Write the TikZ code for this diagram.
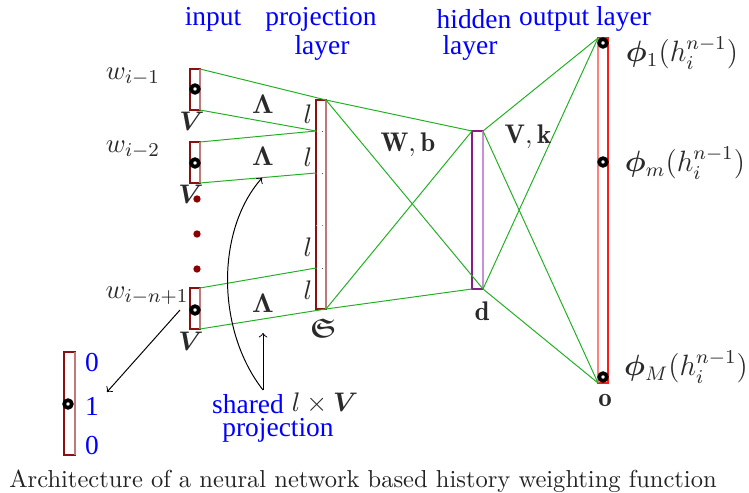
\documentclass[tikz,border=0pt]{standalone}
\usepackage{fontspec}
\usepackage{amsmath,amssymb,bm}
\newfontfamily\timesf{Liberation Serif}
\definecolor{dred}{HTML}{8B1010}
\definecolor{pred}{HTML}{C07878}
\definecolor{gl}{HTML}{22B022}
\definecolor{purp}{HTML}{8B1A8B}
\definecolor{lpurp}{HTML}{C890D8}
\definecolor{bred}{HTML}{FF1A1A}
\definecolor{pinkr}{HTML}{FF8080}
\definecolor{dotred}{HTML}{8B0000}
\definecolor{capgray}{HTML}{222222}
\definecolor{mgray}{HTML}{2A2A2A}
\begin{document}
\begin{tikzpicture}[x=0.408pt,y=-0.408pt,
  box/.style={draw=dred, line width=0.5pt, fill=white, inner sep=0pt, outer sep=0pt, minimum width=4.08pt},
  gline/.style={draw=gl, line width=0.4pt},
  ring/.style={circle, draw=black, line width=1.5pt, fill=white, inner sep=0pt, minimum size=3.1pt},
  rdot/.style={circle, fill=dotred, inner sep=0pt, minimum size=3pt},
  btext/.style={font=\timesf\fontsize{11.2}{12}\selectfont, text=blue, inner sep=0pt},
  mtext/.style={font=\fontsize{11}{13}\selectfont, text=mgray, inner sep=0pt},
  ptext/.style={font=\fontsize{12}{14}\selectfont, text=mgray, inner sep=0pt},
  tick/.style={line width=0.4pt, dotted},
  arr/.style={->, line width=0.4pt, black}
]
\useasboundingbox (0,0) rectangle (749,493);

% boxes
\node[box, minimum height=16.73pt] (in1) at (195,89.5) {};
\node[box, minimum height=16.73pt] (in2) at (195,162.5) {};
\node[box, minimum height=16.73pt] (in3) at (195,308.5) {};
\node[box, minimum height=85.27pt] (proj) at (321,204.5) {};
\node[box, draw=purp, minimum width=4.49pt, minimum height=64.46pt] (hid) at (477.5,210) {};
\node[box, draw=bred, minimum height=140.76pt] (out) at (603,210.5) {};
\node[box, minimum width=4.49pt, minimum height=42.02pt] (vec) at (69.5,403.5) {};

% two-tone edges
\draw[pred, line width=0.5pt] (in1.north east) -- (in1.south east);
\draw[pred, line width=0.5pt] (in2.north east) -- (in2.south east);
\draw[pred, line width=0.5pt] (in3.north east) -- (in3.south east);
\draw[pred, line width=0.5pt] (proj.north east) -- (proj.south east);
\draw[pred, line width=0.5pt] (vec.north east) -- (vec.south east);
\draw[lpurp, line width=0.5pt] (hid.north east) -- (hid.south east);
\draw[pinkr, line width=0.5pt] (out.north west) -- (out.south west);

% split points on projection layer
\coordinate (t1) at (316,131);
\coordinate (t2) at (316,173);
\coordinate (t3) at (316,225);
\coordinate (t4) at (316,268);
\coordinate (u1) at (325,131);
\coordinate (u2) at (325,173);
\coordinate (u3) at (325,225);
\coordinate (u4) at (325,268);
\draw[tick, black!70] (t1) -- (u1);
\draw[tick, black!70] (t2) -- (u2);
\draw[tick, pred] (t3) -- (u3);
\draw[tick, black!70] (t4) -- (u4);

% green connections
\draw[gline] (in1.north east) -- (proj.north east);
\draw[gline] (in1.south east) -- (t1);
\draw[gline] (in2.north east) -- (t1);
\draw[gline] (in2.south east) -- (t2);
\draw[gline] (in3.north east) -- (t4);
\draw[gline] (in3.south east) -- (proj.south east);
\draw[gline] (proj.north east) -- (hid.north west);
\draw[gline] (proj.north east) -- (hid.south east);
\draw[gline] (proj.south east) -- (hid.north west);
\draw[gline] (proj.south east) -- (hid.south west);
\draw[gline] (hid.north east) -- (out.north west);
\draw[gline] (hid.north east) -- (out.south west);
\draw[gline] (hid.south east) -- (out.north west);
\draw[gline] (hid.south east) -- (out.south west);

% rings
\node[ring] (r1) at (195,89) {};
\node[ring] (r2) at (195,163) {};
\node[ring] (r3) at (195,310) {};
\node[ring] (o1) at (603,43) {};
\node[ring] (o2) at (603,162) {};
\node[ring] (o3) at (603,377) {};
\node[ring] (rv) at (68,404) {};

% red dots
\node[rdot] (d1) at (197,199) {};
\node[rdot] (d2) at (197,234) {};
\node[rdot] (d3) at (197,269) {};

% headers
\node[btext] (lin) at (213,19) {input};
\node[btext] (lproj) at (321,19) {projection};
\node[btext] (lprojb) at (322,48) {layer};
\node[btext] (lhid) at (474,19) {hidden};
\node[btext] (lhidb) at (470,48) {layer};
\node[btext] (lout) at (585,19) {output layer};

% math labels
\node[mtext] (w1) at (133,77) {$w_{i-1}$};
\node[mtext] (w2) at (133,150) {$w_{i-2}$};
\node[mtext] (w3) at (147,296) {$w_{i-n+1}$};
\node[mtext] (v1) at (192,121) {$\bm{V}$};
\node[mtext] (v2) at (191,194) {$\bm{V}$};
\node[mtext] (v3) at (191,341) {$\bm{V}$};
\node[mtext] (la1) at (263,104) {$\bm{\Lambda}$};
\node[mtext] (la2) at (263,156) {$\bm{\Lambda}$};
\node[mtext] (la3) at (263,303) {$\bm{\Lambda}$};
\node[mtext] (l1) at (308,114) {$l$};
\node[mtext] (l2) at (308,157) {$l$};
\node[mtext] (l3) at (308,247) {$l$};
\node[mtext] (l4) at (308,290) {$l$};
\node[mtext] (frak) at (323,328) {$\bm{\mathfrak{S}}$};
\node[mtext] (wb) at (408,145) {$\mathbf{W},\mathbf{b}$};
\node[mtext] (vk) at (528,137) {$\mathbf{V},\mathbf{k}$};
\node[mtext] (dl) at (482,311) {$\mathbf{d}$};
\node[mtext] (ol) at (605,400) {$\mathbf{o}$};
\node[ptext] (p1) at (682,53) {$\bm{\phi}_1(h_i^{n-1})$};
\node[ptext] (p2) at (685,163) {$\bm{\phi}_m(h_i^{n-1})$};
\node[ptext] (p3) at (686,367) {$\bm{\phi}_M(h_i^{n-1})$};

% one-hot vector values
\node[btext] (n0a) at (92,363) {0};
\node[btext] (n1) at (92,406) {1};
\node[btext] (n0b) at (92,446) {0};

% shared projection label
\node[btext] (sh) at (248,404) {shared};
\node[mtext] (lxv) at (325,403) {$l\times\bm{V}$};
\node[btext] (shp) at (278,430) {projection};

% arrows
\coordinate (sa) at (263,390);
\coordinate (sb) at (263,333);
\coordinate (sc) at (262,178);
\draw[arr] (sa) -- (sb);
\draw[arr] (sa) .. controls (216,330) and (216,230) .. (sc);
\coordinate (wa) at (180,310);
\coordinate (wb2) at (107,392);
\draw[arr] (wa) -- (wb2);

% caption
\node[text=capgray, inner sep=0pt, font=\fontsize{10}{12}\selectfont] (cap) at (363,481) {Architecture of a neural network based history weighting function};
\end{tikzpicture}
\end{document}
